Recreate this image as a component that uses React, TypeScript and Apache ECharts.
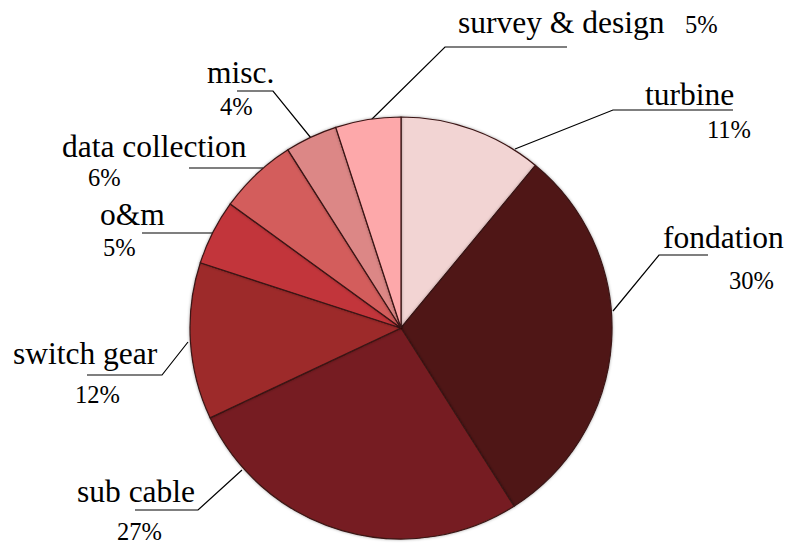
import React, { useEffect, useRef } from "react";
import * as echarts from "echarts";

// Cost breakdown, clockwise from 12 o'clock
const categories = [
  "turbine",
  "fondation",
  "sub cable",
  "switch gear",
  "o&m",
  "data collection",
  "misc.",
  "survey & design",
];
const shares = [11, 30, 27, 12, 5, 6, 4, 5];

const sliceColors = [
  "#f2d4d3",
  "#501517",
  "#761f20",
  "#9d2a2b",
  "#c2353a",
  "#d35d5c",
  "#dc8786",
  "#fda8aa",
];

// Label placement: name anchor (left, middle), percent anchor (left, middle), leader line points
const namePos: [number, number][] = [
  [645, 94.5],
  [663, 237.5],
  [77, 491.5],
  [13, 353.5],
  [100, 214.5],
  [62, 146.5],
  [207, 72.5],
  [458, 22.5],
];
const pctPos: [number, number][] = [
  [707, 129.5],
  [729, 280],
  [117, 531],
  [75, 394],
  [103, 247],
  [88, 177],
  [220, 106],
  [685, 24],
];
const leaderLines: [number, number][][] = [
  [[515, 149], [613, 110], [733, 110]],
  [[613, 311], [659, 255], [708, 255]],
  [[242, 470], [198, 510], [135, 510]],
  [[188, 342], [162, 375], [87, 375]],
  [[213, 233], [190, 233], [142, 233]],
  [[263, 168], [230, 168], [189, 168]],
  [[311, 138], [273, 91], [237, 91]],
  [[370, 121], [445, 47], [567, 47]],
];

const FONT = "Liberation Serif";

export default function App() {
  const ref = useRef<HTMLDivElement>(null);

  useEffect(() => {
    document.body.style.margin = "0";
    if (!ref.current) return;
    const chart = echarts.init(ref.current, undefined, { renderer: "svg" });

    const data = categories.map((name, i) => ({
      name,
      value: shares[i],
      itemStyle: { color: sliceColors[i] },
    }));

    chart.setOption({
      animation: false,
      backgroundColor: "#ffffff",
      textStyle: { fontFamily: FONT },
      series: [
        {
          type: "pie",
          center: [401, 328],
          radius: 211,
          startAngle: 90,
          clockwise: true,
          avoidLabelOverlap: false,
          silent: true,
          data,
          itemStyle: {
            borderColor: "#3a1414",
            borderWidth: 1.2,
            shadowBlur: 3,
            shadowColor: "rgba(0,0,0,0.35)",
          },
          label: {
            show: true,
            position: "outside",
            formatter: "{b}",
            fontFamily: FONT,
            fontSize: 31.5,
            color: "#000",
          },
          labelLine: {
            show: true,
            lineStyle: { color: "#000", width: 1.2 },
          },
          labelLayout: (p: any) => ({
            x: namePos[p.dataIndex][0],
            y: namePos[p.dataIndex][1],
            align: "left",
            verticalAlign: "middle",
            labelLinePoints: leaderLines[p.dataIndex],
          }),
        },
        {
          type: "pie",
          center: [401, 328],
          radius: 211,
          startAngle: 90,
          clockwise: true,
          avoidLabelOverlap: false,
          silent: true,
          data: categories.map((name, i) => ({ name, value: shares[i] })),
          itemStyle: { color: "rgba(0,0,0,0)", borderWidth: 0 },
          label: {
            show: true,
            position: "outside",
            formatter: "{c}%",
            fontFamily: FONT,
            fontSize: 24.5,
            color: "#000",
          },
          labelLine: { show: false },
          labelLayout: (p: any) => ({
            x: pctPos[p.dataIndex][0],
            y: pctPos[p.dataIndex][1],
            align: "left",
            verticalAlign: "middle",
          }),
        },
      ],
    });

    return () => chart.dispose();
  }, []);

  return <div ref={ref} style={{ width: 787, height: 543 }} />;
}
